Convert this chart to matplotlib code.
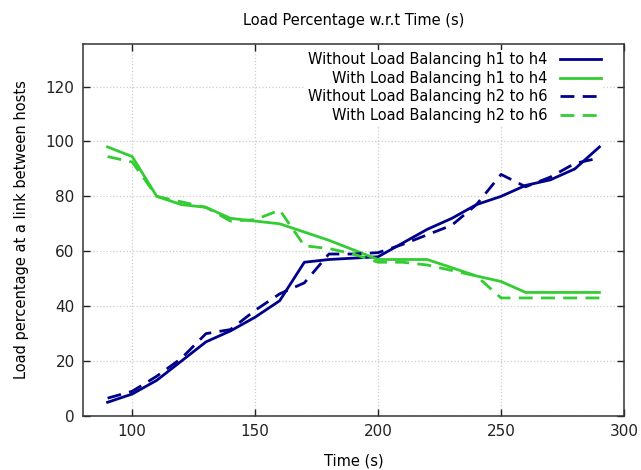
import matplotlib
matplotlib.use('Agg')
import matplotlib.pyplot as plt

# time samples (s)
time_s = [90, 100, 110, 120, 130, 140, 150, 160, 170, 180, 190,
          200, 210, 220, 230, 240, 250, 260, 270, 280, 290]

# load percentage
wo_h1_h4 = [5, 8, 13, 20, 27, 31, 36, 42, 56, 57, 57.5,
            58, 63, 68, 72, 77, 80, 84, 86, 90, 98]
w_h1_h4 = [98, 94.5, 80, 77, 76, 72, 71, 70, 67, 64, 60.5,
           57, 57, 57, 54, 51, 49, 45, 45, 45, 45]
wo_h2_h6 = [6.5, 9, 14.5, 21, 30, 31.5, 38.5, 44.5, 48.5, 59, 59,
            59.5, 62.5, 66, 69.5, 77, 88, 83.5, 87, 92, 94]
w_h2_h6 = [94.5, 92.5, 80, 78, 76, 71, 71.5, 75, 62, 61, 59,
           56, 56, 55, 53, 51, 43, 43, 43, 43, 43]

labels = ['Without Load Balancing h1 to h4', 'With Load Balancing h1 to h4',
          'Without Load Balancing h2 to h6', 'With Load Balancing h2 to h6']

blue = '#00008b'
green = '#33cc33'

fig = plt.figure(figsize=(6.41, 4.70), dpi=100)
ax = fig.add_axes([0.1295, 0.1149, 0.844, 0.7915])

lw = 2.0
ax.plot(time_s, wo_h1_h4, color=blue, lw=lw, label=labels[0])
ax.plot(time_s, w_h1_h4, color=green, lw=lw, label=labels[1])
ax.plot(time_s, wo_h2_h6, color=blue, lw=lw, dashes=(5, 3), label=labels[2])
ax.plot(time_s, w_h2_h6, color=green, lw=lw, dashes=(5, 3), label=labels[3])

ax.set_xlim(80, 300)
ax.set_ylim(0, 135.5)
ax.set_xticks([100, 150, 200, 250, 300])
ax.set_yticks([0, 20, 40, 60, 80, 100, 120])

ax.grid(True, color='#cccccc', linestyle=':', linewidth=0.9)
ax.set_axisbelow(True)
ax.tick_params(direction='in', top=True, right=True, length=5, width=1,
               labelsize=11, colors='#222222', pad=6)
for sp in ax.spines.values():
    sp.set_linewidth(1.1)
    sp.set_color('#333333')

ax.set_title('Load Percentage w.r.t Time (s)', fontsize=10.5, pad=14)
ax.set_xlabel('Time (s)', fontsize=10.5, labelpad=10)
ax.set_ylabel('Load percentage at a link between hosts', fontsize=10.5, labelpad=12)

leg = ax.legend(loc='upper right', bbox_to_anchor=(0.962, 0.985), markerfirst=False,
                frameon=True, framealpha=1, edgecolor='none', fancybox=False,
                fontsize=10.5, handlelength=2.75, labelspacing=0.24,
                borderaxespad=0, handletextpad=0.9, borderpad=0.2)

fig.savefig('out.png', dpi=100)
